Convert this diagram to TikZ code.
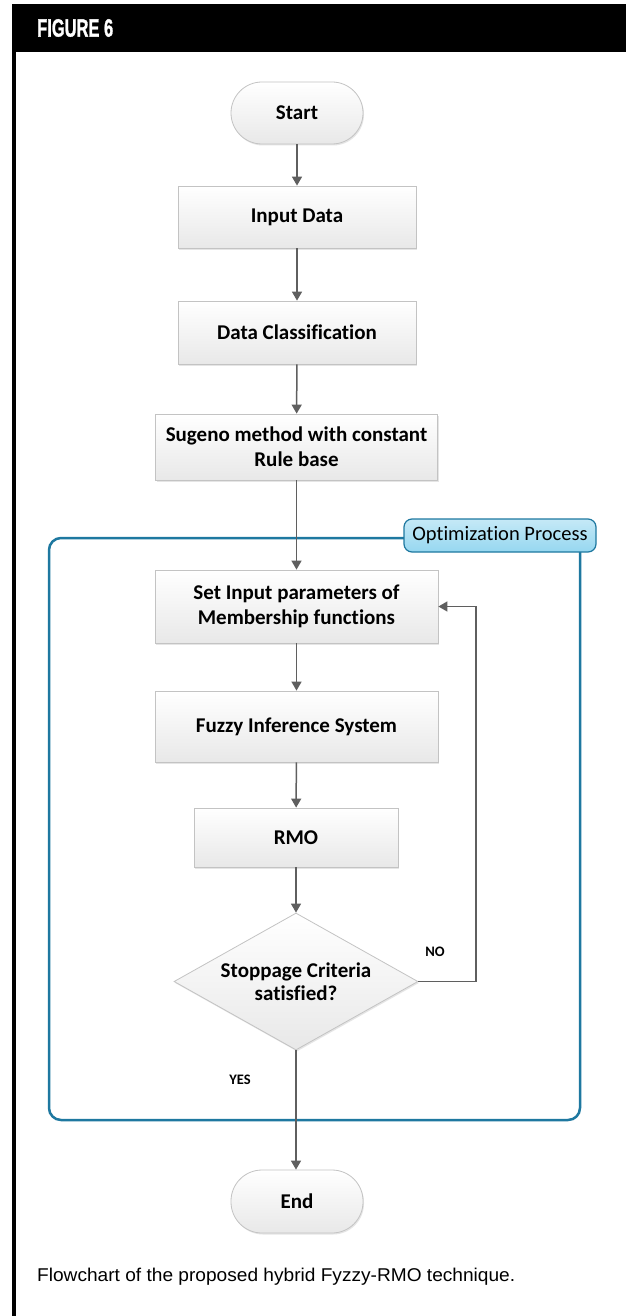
\documentclass[tikz,border=0pt]{standalone}
\usepackage{fontspec}
\setmainfont[Ligatures=NoCommon]{Carlito}
\newfontfamily\capfont{Liberation Sans}
\newfontfamily\hdrfont[BoldFeatures={FakeBold=1.5}]{Liberation Sans}
\usetikzlibrary{shapes.geometric,arrows.meta,shadows}
\definecolor{framecol}{RGB}{30,120,160}
\definecolor{tabfill}{RGB}{150,215,240}
\definecolor{arrcol}{RGB}{95,95,95}
\definecolor{boxline}{RGB}{195,195,195}
\tikzset{
  box/.style={draw=boxline, line width=0.8pt, top color=white, bottom color=black!9,
    font=\fontsize{21}{25}\selectfont\bfseries, align=center, inner sep=0pt,
    drop shadow={shadow xshift=1pt, shadow yshift=-1.5pt, opacity=0.25, fill=black!40}},
  pill/.style={box, rounded corners=31pt},
  arr/.style={draw=arrcol, line width=1.5pt, -{Triangle[length=9pt,width=10pt]}},
  lbl/.style={font=\fontsize{14.5}{16}\selectfont\bfseries, inner sep=0pt}
}
\begin{document}
\begin{tikzpicture}[x=1pt,y=-1pt]
\useasboundingbox (0,0) rectangle (626,1316);
\fill[white] (0,0) rectangle (626,1316);
% header and border
\fill[black] (12,4) rectangle (626,52);
\fill[black] (12,52) rectangle (15.5,1316);
\node[anchor=west, text=white, inner sep=0pt] (hdr) at (37,28)
  {\resizebox{76pt}{\height}{\hdrfont\bfseries\fontsize{25}{25}\selectfont FIGURE 6}};
\node[anchor=west, inner sep=0pt] (cap) at (37,1277)
  {\resizebox{478pt}{\height}{\capfont\fontsize{18.5}{20}\selectfont Flowchart of the proposed hybrid Fyzzy-RMO technique.}};

% optimization frame
\draw[framecol, line width=2.5pt, rounded corners=12pt] (49,538) rectangle (580,1120);
\node[draw=framecol, line width=1.2pt, top color=tabfill!55, bottom color=tabfill,
  rounded corners=8pt, minimum width=192pt, minimum height=33pt, inner sep=0pt,
  font=\fontsize{20.5}{22}\selectfont] (tab) at (500,535.5) {Optimization Process};

% nodes
\node[pill, minimum width=132pt, minimum height=62pt] (start) at (297,113) {Start};
\node[box, minimum width=238pt, minimum height=62pt] (input) at (297,217) {Input Data};
\node[box, minimum width=238pt, minimum height=63pt] (class) at (297,332.5) {Data Classification};
\node[box, minimum width=282pt, minimum height=66pt] (sugeno) at (296.5,447) {Sugeno method with constant\\Rule base};
\node[box, minimum width=283pt, minimum height=73pt] (set) at (296.5,606.5) {Set Input parameters of\\Membership functions};
\node[box, minimum width=283pt, minimum height=71pt] (fis) at (296.5,726.5) {Fuzzy Inference System};
\node[box, minimum width=204pt, minimum height=59pt] (rmo) at (296,837.5) {RMO};
\node[box, diamond, aspect=1.78, minimum width=244pt, minimum height=137pt,
  font=\fontsize{21}{23}\selectfont\bfseries] (dec) at (296,981.5) {Stoppage Criteria\\satisfied?};
\node[pill, minimum width=132pt, minimum height=63pt] (end) at (297,1201.5) {End};

\node[lbl] (no) at (435,952) {NO};
\node[lbl] (yes) at (240,1080) {YES};

% connectors
\coordinate (fb) at (476,606);
\draw[arr] (start) -- (input);
\draw[arr] (input) -- (class);
\draw[arr] (class) -- (sugeno);
\draw[arr] (sugeno) -- (set);
\draw[arr] (set) -- (fis);
\draw[arr] (fis) -- (rmo);
\draw[arr] (rmo) -- (dec);
\draw[arr] (dec.south) -- (dec.south |- end.north);
\draw[arr] (dec.east) -| (fb |- set.east) -- (set.east);
\end{tikzpicture}
\end{document}
